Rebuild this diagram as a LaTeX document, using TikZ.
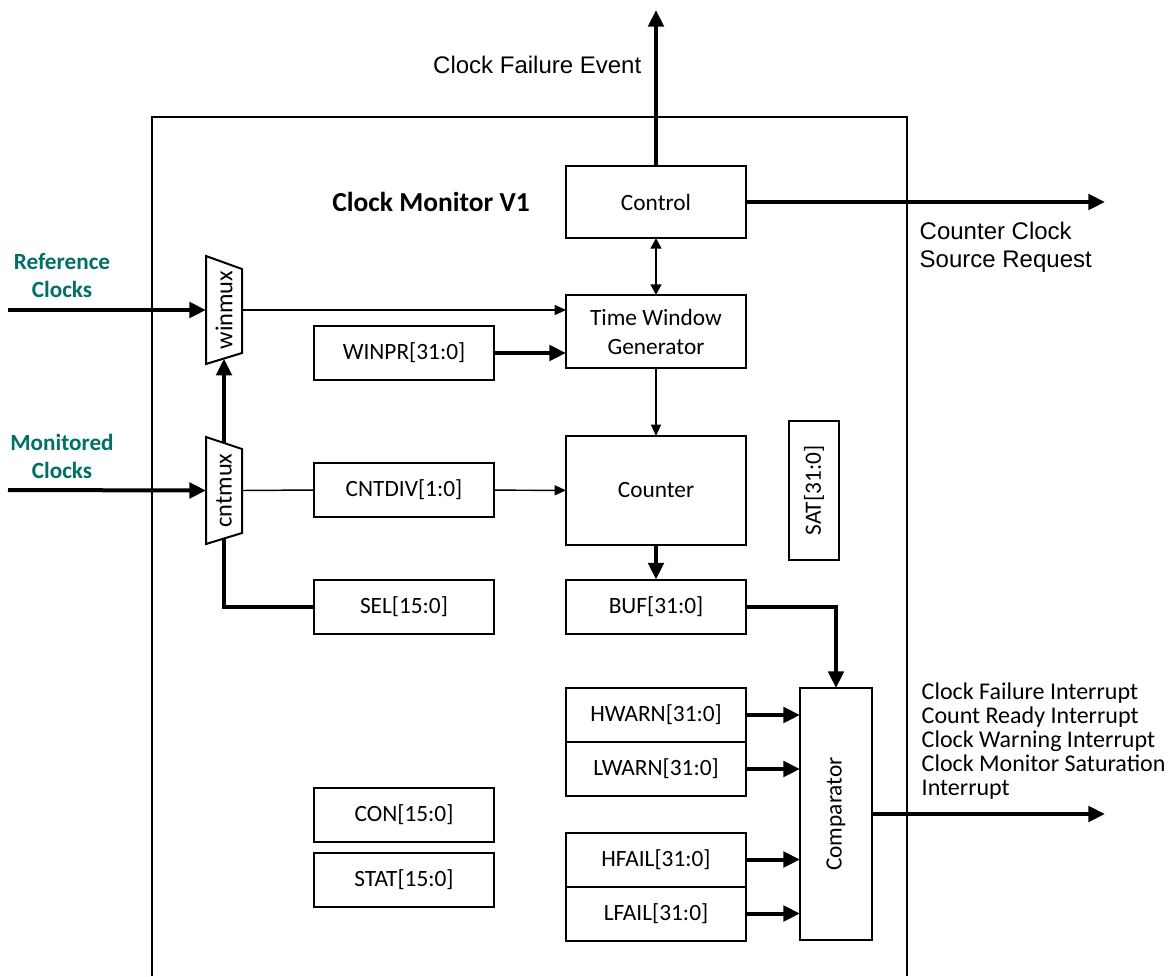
\documentclass[tikz,border=0pt]{standalone}
\usepackage{fontspec}
\setmainfont{Carlito}
\newfontfamily\arialfont{Liberation Sans}
\usepackage{graphicx}
\usetikzlibrary{arrows.meta,positioning}
\definecolor{clkteal}{RGB}{0,112,102}

\begin{document}
\begin{tikzpicture}[x=0.75pt,y=-0.75pt,
  box/.style={draw, line width=1.5pt, outer sep=0pt, inner sep=2pt, align=center,
              minimum width=135pt, minimum height=40.5pt,
              font=\fontsize{17.5}{21.75}\selectfont},
  mux/.style={inner sep=0pt, outer sep=0pt, minimum width=27pt, minimum height=81pt,
              font=\fontsize{18.3}{20}\selectfont},
  lbl/.style={align=left, font=\fontsize{18}{18}\selectfont},
  clk/.style={align=center, text=clkteal, font=\bfseries\fontsize{17.4}{21}\selectfont},
  sig/.style={align=left, font=\arialfont\fontsize{18}{21}\selectfont},
  arr/.style={-{Triangle[length=8.5pt,width=7.5pt]}, line width=1.1pt},
  busarr/.style={-{Triangle[length=12.5pt,width=11.5pt]}, line width=3pt},
  busline/.style={line width=3pt}
]
\useasboundingbox (0,0) rectangle (1172,976);
% outer block, open at the bottom
\draw[line width=1.1pt] (152,976) -- (152,117) -- (907,117) -- (907,976);
\node[font=\bfseries\fontsize{20.6}{22}\selectfont] (title) at (431,202) {Clock Monitor V1};

\node[box, minimum height=54pt] (ctrl) at (656,202) {Control};
\node[box, minimum height=54.75pt] (twg) at (656,331.5) {Time Window\\Generator};
\node[box, minimum height=81.75pt] (cnt) at (656,490.5) {Counter};
\node[box] (buf) at (656,606.5) {BUF[31:0]};
\node[box] (winpr) at (404,353) {WINPR[31:0]};
\node[box] (cntdiv) at (404,490) {CNTDIV[1:0]};
\node[box] (sel) at (404,606.5) {SEL[15:0]};
\node[box] (con) at (404,815) {CON[15:0]};
\node[box] (stat) at (404,880) {STAT[15:0]};
\node[box] (hwarn) at (656,715) {HWARN[31:0]};
\node[box, below=0pt of hwarn] (lwarn) {LWARN[31:0]};
\node[box] (hfail) at (656,859.5) {HFAIL[31:0]};
\node[box, below=0pt of hfail] (lfail) {LFAIL[31:0]};
\node[box, minimum width=54pt, minimum height=189pt] (cmp) at (836,814) {\rotatebox{90}{Comparator}};
\node[box, minimum width=37.5pt, minimum height=104.25pt] (sat) at (814,490.5) {\rotatebox{90}{SAT[31:0]}};

% muxes
\node[mux] (winmux) at (224,310) {\rotatebox{90}{winmux}};
\node[mux, minimum height=80.25pt] (cntmux) at (224,490.5) {\rotatebox{90}{cntmux}};
\draw[line width=1.5pt] (winmux.north west) -- ([yshift=-9.75pt]winmux.north east)
  -- ([yshift=8.25pt]winmux.south east) -- (winmux.south west) -- cycle;
\draw[line width=1.5pt] (cntmux.north west) -- ([yshift=-9pt]cntmux.north east)
  -- ([yshift=8.25pt]cntmux.south east) -- (cntmux.south west) -- cycle;

\coordinate (refin) at (8,310);
\coordinate (monin) at (8,490);
\coordinate (evout) at (656,10);
\coordinate (reqout) at (1105,202);
\coordinate (irqout) at (1105,814);

\draw[busarr] (refin) -- (winmux.west);
\draw[busarr] (monin) -- (cntmux.west);
\draw[arr] (winmux.east) -- (winmux.east -| twg.west);
\draw[line width=1.1pt] (cntmux.east) -- (cntdiv.west);
\draw[arr] (cntdiv) -- (cnt);
\draw[busarr] ([yshift=-4.5pt]cntmux.north) -- ([yshift=4pt]winmux.south);
\draw[busline] (sel.west) -| ([yshift=4pt]cntmux.south);
\draw[busarr] (winpr.east) -- (winpr.east -| twg.west);
\draw[{Triangle[length=8pt,width=8pt]}-{Triangle[length=8pt,width=8pt]}, line width=1.8pt] (ctrl) -- (twg);
\draw[arr] (twg) -- (cnt);
\draw[busarr] (cnt) -- (buf);
\draw[busarr] (buf.east) -| (cmp.north);
\draw[busarr] (hwarn.east) -- (hwarn.east -| cmp.west);
\draw[busarr] (lwarn.east) -- (lwarn.east -| cmp.west);
\draw[busarr] (hfail.east) -- (hfail.east -| cmp.west);
\draw[busarr] (lfail.east) -- (lfail.east -| cmp.west);
\draw[busarr] (cmp.east) -- (irqout);
\draw[busarr] (ctrl.north) -- (evout);
\draw[busarr] (ctrl.east) -- (reqout);

\node[sig, anchor=east] (evlbl) at (646,65) {Clock Failure Event};
\node[sig, anchor=west] (reqlbl) at (915,247) {Counter Clock\\Source Request};
\node[lbl, anchor=west] (irqlbl) at (917,741) {Clock Failure Interrupt\\Count Ready Interrupt\\Clock Warning Interrupt\\Clock Monitor Saturation\\Interrupt};
\node[clk] (reflbl) at (62,276) {Reference\\Clocks};
\node[clk] (monlbl) at (62,456) {Monitored\\Clocks};
\end{tikzpicture}
\end{document}
